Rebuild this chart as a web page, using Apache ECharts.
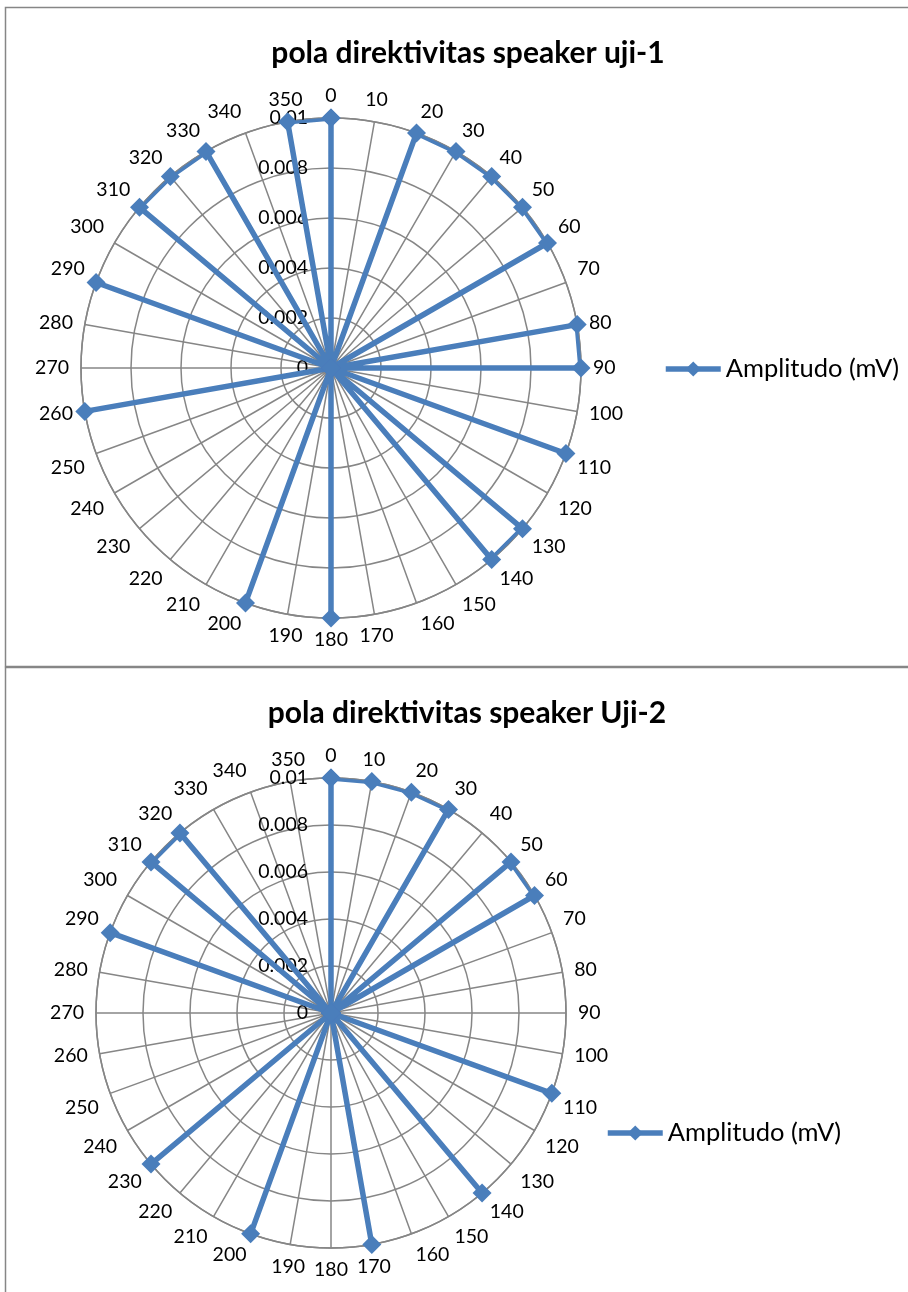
<!DOCTYPE html>
<html>
<head>
<meta charset="utf-8">
<script src="https://cdn.jsdelivr.net/npm/echarts@6/dist/echarts.min.js"></script>
<style>
  html, body { margin: 0; padding: 0; background: #ffffff; }
  #chart { width: 908px; height: 1292px; }
</style>
</head>
<body>
<div id="chart"></div>
<script>
// Measurement angles (degrees) and amplitudes for the two speakers under test
const angles = [0, 10, 20, 30, 40, 50, 60, 70, 80, 90, 100, 110, 120, 130, 140, 150, 160, 170,
                180, 190, 200, 210, 220, 230, 240, 250, 260, 270, 280, 290, 300, 310, 320, 330, 340, 350];

const amplitudeUji1 = [0.01, 0, 0.01, 0.01, 0.01, 0.01, 0.01, 0, 0.01, 0.01, 0, 0.01,
                       0, 0.01, 0.01, 0, 0, 0, 0.01, 0, 0.01, 0, 0, 0,
                       0, 0, 0.01, 0, 0, 0.01, 0, 0.01, 0.01, 0.01, 0, 0.01];

const amplitudeUji2 = [0.01, 0.01, 0.01, 0.01, 0, 0.01, 0.01, 0, 0, 0, 0, 0.01,
                       0, 0, 0.01, 0, 0, 0.01, 0, 0, 0.01, 0, 0, 0.01,
                       0, 0, 0, 0, 0, 0.01, 0, 0.01, 0.01, 0, 0, 0];

const radiusTicks = [0, 0.002, 0.004, 0.006, 0.008, 0.01];
const seriesName = 'Amplitudo (mV)';
const titles = ['pola direktivitas speaker uji-1', 'pola direktivitas speaker Uji-2'];

const FONT = 'Lato';
const LINE_BLUE = '#4A7EBB';
const GRID_GREY = '#868686';

// closed polygon: repeat the first reading at 360 degrees
function toPolarData(values) {
  const pts = angles.map((a, i) => [values[i], a]);
  pts.push([values[0], 360]);
  return pts;
}

function polarBlock(center, radius) {
  return { center: center, radius: radius };
}

function angleAxis(idx) {
  return {
    polarIndex: idx,
    type: 'value',
    min: 0,
    max: 360,
    interval: 10,
    startAngle: 90,
    clockwise: true,
    axisLine: { show: true, lineStyle: { color: GRID_GREY, width: 1.5 } },
    axisTick: { show: false },
    splitLine: { show: true, lineStyle: { color: GRID_GREY, width: 1.5 } },
    axisLabel: {
      show: true,
      margin: 12,
      color: '#000',
      fontFamily: FONT,
      fontSize: 19.5,
      formatter: v => (v >= 360 ? '' : String(v))
    }
  };
}

function radiusAxis(idx) {
  return {
    polarIndex: idx,
    type: 'value',
    min: radiusTicks[0],
    max: radiusTicks[radiusTicks.length - 1],
    interval: radiusTicks[1] - radiusTicks[0],
    axisLine: { show: false },
    axisTick: { show: false },
    splitLine: { show: true, lineStyle: { color: GRID_GREY, width: 1.5 } },
    axisLabel: {
      show: true,
      margin: 23,
      color: '#000',
      fontFamily: FONT,
      fontSize: 19.5,
      formatter: v => {
        const t = radiusTicks.find(r => Math.abs(r - v) < 1e-9);
        return t === undefined ? '' : String(t);
      }
    },
    z: 3
  };
}

function lineSeries(idx, values) {
  return {
    name: seriesName,
    type: 'line',
    coordinateSystem: 'polar',
    polarIndex: idx,
    data: toPolarData(values),
    symbol: 'diamond',
    symbolSize: 19,
    showAllSymbol: true,
    clip: false,
    lineStyle: { color: LINE_BLUE, width: 5.5 },
    itemStyle: { color: LINE_BLUE },
    animation: false,
    z: 5
  };
}

function legendBlock(left, top) {
  return {
    left: left,
    top: top,
    padding: 0,
    orient: 'vertical',
    itemWidth: 55,
    itemHeight: 19,
    data: [seriesName],
    lineStyle: { width: 5.5 },
    textStyle: { fontFamily: FONT, fontSize: 25.5, color: '#000' },
    selectedMode: false
  };
}

const chart = echarts.init(document.getElementById('chart'), null, { renderer: 'canvas' });

chart.setOption({
  backgroundColor: '#ffffff',
  animation: false,
  title: [
    {
      text: titles[0], left: 463, top: 33, textAlign: 'center',
      textStyle: { fontFamily: FONT, fontWeight: 'bold', fontSize: 30, color: '#000' }
    },
    {
      text: titles[1], left: 462, top: 693, textAlign: 'center',
      textStyle: { fontFamily: FONT, fontWeight: 'bold', fontSize: 30, color: '#000' }
    }
  ],
  legend: [legendBlock(663, 356), legendBlock(605, 1120)],
  polar: [polarBlock([331, 368], 250), polarBlock([331, 1013], 235)],
  angleAxis: [angleAxis(0), angleAxis(1)],
  radiusAxis: [radiusAxis(0), radiusAxis(1)],
  series: [lineSeries(0, amplitudeUji1), lineSeries(1, amplitudeUji2)],
  graphic: [
    // chart area frames
    { type: 'rect', shape: { x: 5.5, y: 7.5, width: 920, height: 659 },
      style: { fill: null, stroke: GRID_GREY, lineWidth: 1.5 }, silent: true, z: -1 },
    { type: 'rect', shape: { x: 5.5, y: 667.5, width: 920, height: 660 },
      style: { fill: null, stroke: GRID_GREY, lineWidth: 1.5 }, silent: true, z: -1 }
  ]
});
</script>
</body>
</html>
